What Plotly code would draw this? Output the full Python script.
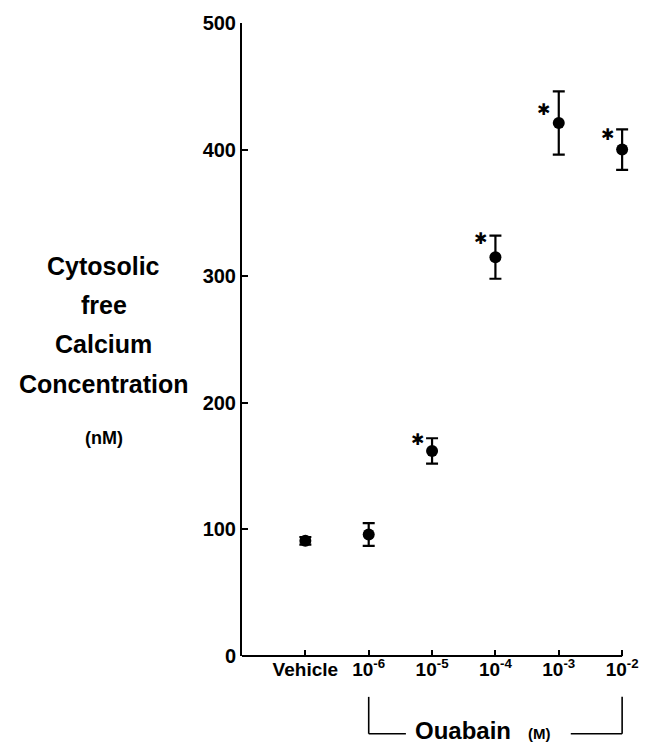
import plotly.graph_objects as go

categories = ["Vehicle", "10<sup>-6</sup>", "10<sup>-5</sup>", "10<sup>-4</sup>", "10<sup>-3</sup>", "10<sup>-2</sup>"]
calcium_nM = [91, 96, 162, 315, 421, 400]
sem_nM = [3, 9, 10, 17, 25, 16]
significant = [False, False, True, True, True, True]
star_y = [None, None, 171, 330, 432, 412]
y_ticks = [0, 100, 200, 300, 400, 500]

W, H = 650, 745
L, R, T, B = 242, 13, 21, 89
xmin = -1
px_per_unit = (627 - L) / 6.0
xmax = xmin + (W - L - R) / px_per_unit
ymin, ymax = 0, 500
pw, ph = W - L - R, H - T - B

def px_to_paper_x(px):
    return (px - L) / pw

def px_to_paper_y(py):
    return (H - B - py) / ph

def data_to_paper_x(v):
    return (v - xmin) / (xmax - xmin)

xs = list(range(len(categories)))
font_main = "Liberation Sans, Arial, Helvetica, sans-serif"

fig = go.Figure()
fig.add_trace(go.Scatter(
    x=xs, y=calcium_nM, mode="markers",
    marker=dict(color="black", size=12, symbol="circle"),
    error_y=dict(type="data", array=sem_nM, visible=True, color="black", thickness=2.2, width=6),
    showlegend=False, cliponaxis=False,
))

annotations = []
for i, (sig, sy) in enumerate(zip(significant, star_y)):
    if sig:
        annotations.append(dict(x=xs[i], y=sy, xref="x", yref="y", text="✱", showarrow=False,
                                xshift=-15, font=dict(family="DejaVu Sans", size=16, color="black")))

ylabel_lines = [("Cytosolic", 265, 25), ("free", 304, 25), ("Calcium", 343, 25),
                ("Concentration", 383, 25), ("(nM)", 437, 18)]
for txt, py, fs in ylabel_lines:
    annotations.append(dict(x=px_to_paper_x(102), y=px_to_paper_y(py), xref="paper", yref="paper",
                            text=txt, showarrow=False, xanchor="center", yanchor="middle",
                            font=dict(family=font_main, size=fs, color="black", weight="bold")))

# x axis line (drawn to the last category) and Ouabain bracket
lw = 1.6
yb_top = px_to_paper_y(697)
yb_bot = px_to_paper_y(734)
xl = data_to_paper_x(1)
xr = data_to_paper_x(5)
shapes = [
    dict(type="line", xref="paper", yref="paper", x0=0, x1=xr, y0=0, y1=0, line=dict(color="black", width=2)),
    dict(type="line", xref="paper", yref="paper", x0=xl, x1=xl, y0=yb_top, y1=yb_bot, line=dict(color="black", width=lw)),
    dict(type="line", xref="paper", yref="paper", x0=xl, x1=px_to_paper_x(408), y0=yb_bot, y1=yb_bot, line=dict(color="black", width=lw)),
    dict(type="line", xref="paper", yref="paper", x0=px_to_paper_x(575), x1=xr, y0=yb_bot, y1=yb_bot, line=dict(color="black", width=lw)),
    dict(type="line", xref="paper", yref="paper", x0=xr, x1=xr, y0=yb_top, y1=yb_bot, line=dict(color="black", width=lw)),
]
annotations.append(dict(x=px_to_paper_x(466), y=px_to_paper_y(731), xref="paper", yref="paper",
                        text="Ouabain", showarrow=False, xanchor="center", yanchor="middle",
                        font=dict(family=font_main, size=24, color="black", weight="bold")))
annotations.append(dict(x=px_to_paper_x(543), y=px_to_paper_y(734), xref="paper", yref="paper",
                        text="(M)", showarrow=False, xanchor="center", yanchor="middle",
                        font=dict(family=font_main, size=15, color="black", weight="bold")))

fig.update_layout(
    width=W, height=H,
    margin=dict(l=L, r=R, t=T, b=B, pad=0),
    paper_bgcolor="white", plot_bgcolor="white",
    showlegend=False,
    annotations=annotations, shapes=shapes,
    xaxis=dict(range=[xmin, xmax], tickmode="array", tickvals=xs, ticktext=categories,
               showgrid=False, zeroline=False, showline=False,
               ticks="inside", ticklen=6, tickwidth=2, tickcolor="black",
               tickfont=dict(family=font_main, size=19, color="black", weight="bold")),
    yaxis=dict(range=[ymin, ymax], tickmode="array", tickvals=y_ticks,
               showgrid=False, zeroline=False, showline=True, linecolor="black", linewidth=2,
               ticks="inside", ticklen=6, tickwidth=2, tickcolor="black",
               tickfont=dict(family=font_main, size=20, color="black", weight="bold")),
)

fig.write_html("out.html")
